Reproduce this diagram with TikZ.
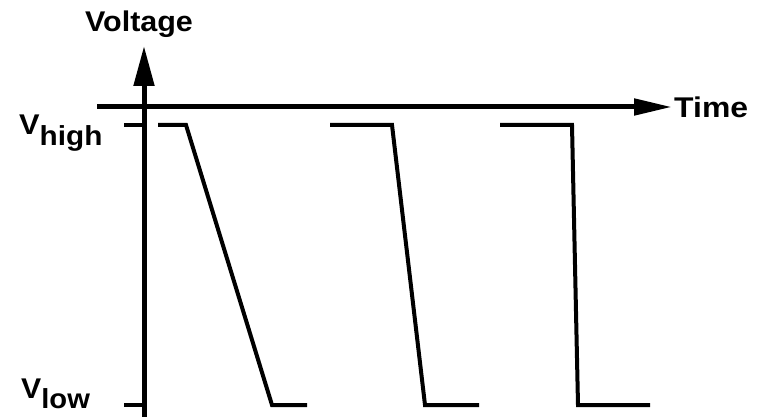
\documentclass[tikz,border=0pt]{standalone}
\usepackage{fontspec}
\setmainfont{Liberation Sans}
\usetikzlibrary{arrows.meta}
\begin{document}
\begin{tikzpicture}[x=1pt,y=-1pt,
  axis/.style={line width=5pt,-{Triangle[length=40pt,width=20pt]}},
  haxis/.style={line width=5pt,-{Triangle[length=38pt,width=16pt]}},
  wave/.style={line width=4pt,line join=miter},
  tick/.style={line width=4pt},
  lbl/.style={inner sep=0pt,font=\fontsize{28.5}{30}\selectfont\bfseries}]
\useasboundingbox (0,0) rectangle (763,417);
\coordinate (yb) at (144,417);
\coordinate (yt) at (144,46);
\coordinate (xl) at (97,107);
\coordinate (xr) at (672,107);
\draw[axis] (yb) -- (yt);
\draw[haxis] (xl) -- (xr);
\node[lbl,anchor=base] (volt) at (139,32) {\scalebox{1.07}[1]{Voltage}};
\node[lbl,anchor=base west] (time) at (674,118) {\scalebox{1.12}[1]{Time}};
\node[lbl,anchor=base west] (vh) at (19,135) {\scalebox{1.08}[1]{V\raisebox{-11pt}{\fontsize{27.5}{30}\selectfont high}}};
\node[lbl,anchor=base west] (vl) at (21,398) {\scalebox{1.06}[1]{V\raisebox{-10pt}{\fontsize{27.5}{30}\selectfont low}}};
\coordinate (th1) at (124,125); \coordinate (th2) at (144,125);
\coordinate (tl1) at (124,405); \coordinate (tl2) at (144,405);
\draw[tick] (th1) -- (th2);
\draw[tick] (tl1) -- (tl2);
\coordinate (a1) at (158,125); \coordinate (a2) at (186,125);
\coordinate (a3) at (272,405); \coordinate (a4) at (307,405);
\coordinate (b1) at (330,125); \coordinate (b2) at (392,125);
\coordinate (b3) at (425,405); \coordinate (b4) at (479,405);
\coordinate (c1) at (500,125); \coordinate (c2) at (572,125);
\coordinate (c3) at (578,405); \coordinate (c4) at (650,405);
\draw[wave] (a1) -- (a2) -- (a3) -- (a4);
\draw[wave] (b1) -- (b2) -- (b3) -- (b4);
\draw[wave] (c1) -- (c2) -- (c3) -- (c4);
\end{tikzpicture}
\end{document}
